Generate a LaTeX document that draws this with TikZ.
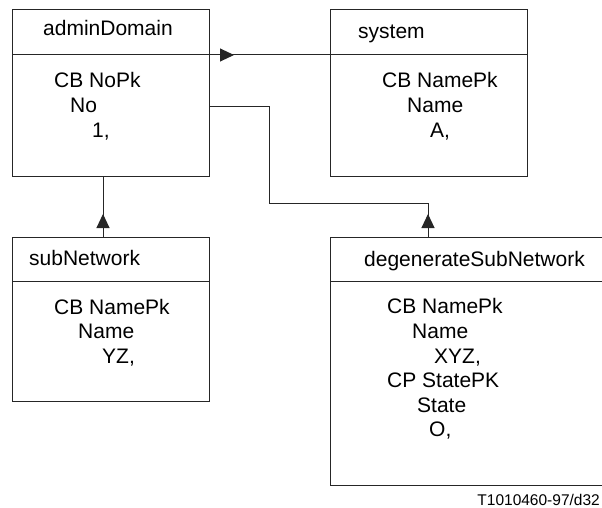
\documentclass[tikz,border=0pt]{standalone}
\usepackage{fontspec}
\setmainfont{Liberation Sans}
\usetikzlibrary{arrows.meta,decorations.markings}
\begin{document}
\begin{tikzpicture}[x=1pt,y=-1pt,
  cls/.style={draw=black!85, line width=1pt, rectangle, anchor=north west, inner sep=0pt, minimum width=197pt},
  conn/.style={draw=black!85, line width=1pt},
  midarrow/.style={postaction=decorate, decoration={markings, mark=at position #1 with {\arrow{Triangle[length=14pt,width=13pt]}}}},
  txt/.style={anchor=base west, inner sep=0pt, font=\fontsize{21}{25}\selectfont},
  ref/.style={anchor=base east, inner sep=0pt, font=\fontsize{15.5}{18}\selectfont}]
\useasboundingbox (0,0) rectangle (602,508);
% boxes
\node[cls, minimum height=167pt] (admin) at (12,9) {};
\node[cls, minimum height=167pt] (sys) at (330,9) {};
\node[cls, minimum height=164pt] (sub) at (12,237) {};
\node[cls, minimum width=290pt, minimum height=248pt] (dsn) at (330,237) {};
% header dividers
\draw[conn] ([yshift=-46pt]admin.north west) -- ([yshift=-46pt]admin.north east);
\draw[conn] ([yshift=-46pt]sys.north west) -- ([yshift=-46pt]sys.north east);
\draw[conn] ([yshift=-44pt]sub.north west) -- ([yshift=-44pt]sub.north east);
\draw[conn] ([yshift=-44pt]dsn.north west) -- ([yshift=-44pt]dsn.north east);
% texts
\node[txt] (t1) at (43,36) {adminDomain};
\node[txt] (t2) at (54,88) {CB NoPk};
\node[txt] (t3) at (70,113) {No};
\node[txt] (t4) at (92,138) {1,};
\node[txt] (t5) at (358,39) {system};
\node[txt] (t6) at (382,88) {CB NamePk};
\node[txt] (t7) at (407,113) {Name};
\node[txt] (t8) at (430,138) {A,};
\node[txt] (t9) at (29,265) {subNetwork};
\node[txt] (t10) at (54,314) {CB NamePk};
\node[txt] (t11) at (78,338) {Name};
\node[txt] (t12) at (102,363) {YZ,};
\node[txt] (t13) at (364,266) {degenerateSubNetwork};
\node[txt] (t14) at (387,313) {CB NamePk};
\node[txt] (t15) at (412,338) {Name};
\node[txt] (t16) at (434,363) {XYZ,};
\node[txt] (t17) at (387,387) {CP StatePK};
\node[txt] (t18) at (417,412) {State};
\node[txt] (t19) at (429,436) {O,};
\node[ref] (lbl) at (600,505) {T1010460-97/d32};
% connectors
\draw[conn, midarrow=24pt] ([yshift=-46pt]admin.north east) -- ([yshift=-46pt]sys.north west);
\draw[conn, midarrow=23pt] ([xshift=91pt]sub.north west) -- ([xshift=91pt]admin.south west);
\coordinate (b1) at (428,203);
\coordinate (b2) at (269,203);
\draw[conn, midarrow=23pt] ([xshift=98pt]dsn.north west) -- (b1) -- (b2) -- (b2 |- 0,107) -- ([yshift=-98pt]admin.north east);
\end{tikzpicture}
\end{document}
